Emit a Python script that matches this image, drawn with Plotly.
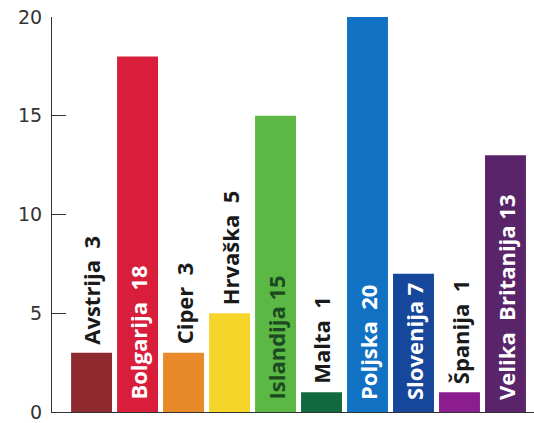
import plotly.graph_objects as go

countries = ["Avstrija", "Bolgarija", "Ciper", "Hrvaška", "Islandija", "Malta",
             "Poljska", "Slovenija", "Španija", "Velika Britanija"]
values = [3, 18, 3, 5, 15, 1, 20, 7, 1, 13]
labels = ["Avstrija  3", "Bolgarija  18", "Ciper  3", "Hrvaška  5", "Islandija 15",
          "Malta  1", "Poljska  20", "Slovenija 7", "Španija  1", "Velika  Britanija 13"]
colors = ["#8e2a2e", "#d81e3a", "#e8892a", "#f6d52a", "#5cb844", "#11693f",
          "#1172c4", "#16479a", "#8c1d8e", "#5a246a"]
inside = [False, True, False, False, True, False, True, True, False, True]
text_colors = ["#1a1a1a", "white", "#1a1a1a", "#1a1a1a", "#1b4a22", "#1a1a1a",
               "white", "white", "#1a1a1a", "white"]
y_ticks = [0, 5, 10, 15, 20]

xs = list(range(len(countries)))

fig = go.Figure(go.Bar(
    x=xs,
    y=values,
    marker=dict(color=colors, line=dict(width=0)),
    hoverinfo="skip",
))

for i, (v, lab, ins, tc) in enumerate(zip(values, labels, inside, text_colors)):
    fig.add_annotation(
        x=i, y=0 if ins else v, xref="x", yref="y",
        text=lab, textangle=-90, showarrow=False,
        xanchor="center", yanchor="bottom",
        yshift=10 if ins else 6,
        font=dict(family="Open Sans", size=22, color=tc, weight="bold"),
    )

fig.update_layout(
    width=534, height=423,
    margin=dict(l=52, r=0, t=17, b=9),
    paper_bgcolor="white", plot_bgcolor="white",
    bargap=0.11,
    showlegend=False,
    xaxis=dict(range=[-0.86, 9.62], showticklabels=False, ticks="",
               showgrid=False, zeroline=False, showline=True,
               linecolor="#333333", linewidth=1.2),
    yaxis=dict(range=[0, 20], tickvals=y_ticks, ticks="inside", ticklen=14,
               tickcolor="#333333", tickwidth=1.2, showgrid=False, zeroline=False,
               showline=True, linecolor="#333333", linewidth=1.2,
               ticklabelstandoff=5, ticklabeloverflow="allow",
               tickfont=dict(family="DejaVu Sans", size=19, color="#333333")),
)

fig.write_html("out.html")
